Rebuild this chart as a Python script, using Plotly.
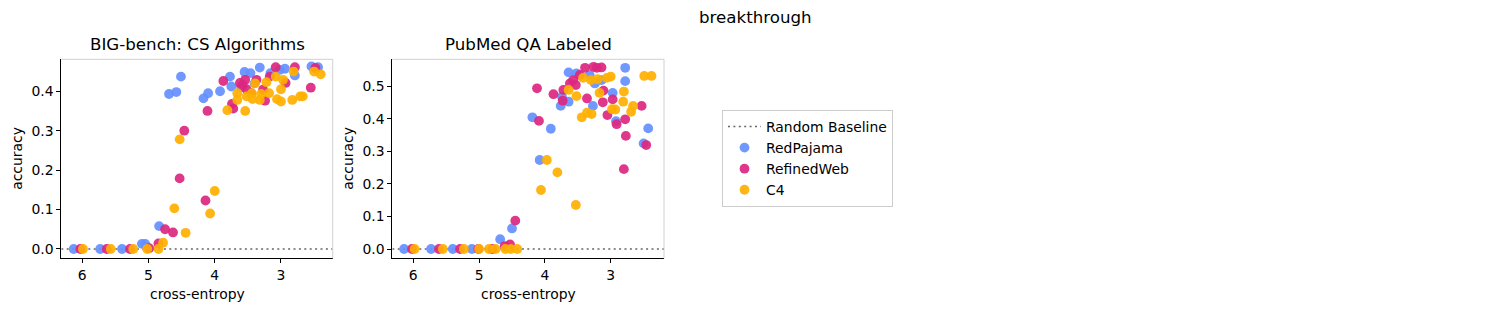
import plotly.graph_objects as go

# ---------------- data ----------------
panel_titles = ["BIG-bench: CS Algorithms", "PubMed QA Labeled"]
series_names = ["RedPajama", "RefinedWeb", "C4"]
series_colors = ["#648FFF", "#DC267F", "#FFB000"]
baseline_value = 0.0
x_ticks = [6, 5, 4, 3]
y_ticks_1 = [0.0, 0.1, 0.2, 0.3, 0.4]
y_ticks_2 = [0.0, 0.1, 0.2, 0.3, 0.4, 0.5]

# Panel 1: BIG-bench CS Algorithms
p1_redpajama_x = [6.13, 5.73, 5.40, 5.10, 5.05, 4.84, 4.69, 4.58, 4.51, 4.17, 4.10, 3.92, 3.77, 3.75,
                  3.55, 3.46, 3.32, 3.16, 3.02, 2.94, 2.79, 2.54, 2.44, 3.60, 3.40]
p1_redpajama_y = [0.0, 0.0, 0.0, 0.013, 0.013, 0.058, 0.393, 0.398, 0.437, 0.382, 0.395, 0.400, 0.437, 0.412,
                  0.449, 0.446, 0.460, 0.446, 0.454, 0.457, 0.440, 0.463, 0.461, 0.410, 0.420]
p1_refinedweb_x = [6.03, 5.63, 5.28, 4.99, 4.85, 4.75, 4.63, 4.53, 4.46, 4.14, 4.11, 3.87, 3.74, 3.72,
                   3.62, 3.54, 3.52, 3.37, 3.27, 3.24, 3.17, 3.08, 2.93, 2.79, 2.55, 2.48, 3.45, 3.58]
p1_refinedweb_y = [0.0, 0.0, 0.0, 0.002, 0.014, 0.050, 0.042, 0.179, 0.300, 0.123, 0.350, 0.426, 0.368, 0.356,
                   0.421, 0.429, 0.405, 0.429, 0.404, 0.376, 0.437, 0.461, 0.421, 0.461, 0.409, 0.459, 0.395, 0.415]
p1_c4_x = [5.99, 5.57, 5.23, 5.02, 4.85, 4.78, 4.61, 4.53, 4.44, 4.07, 4.00, 3.81, 3.66, 3.66, 3.54, 3.52,
           3.44, 3.43, 3.39, 3.32, 3.30, 3.22, 3.18, 3.08, 3.06, 3.00, 3.00, 2.97, 2.83, 2.81, 2.71, 2.67,
           2.50, 2.40]
p1_c4_y = [0.0, 0.0, 0.0, 0.0, 0.0, 0.016, 0.103, 0.278, 0.041, 0.090, 0.147, 0.352, 0.395, 0.378, 0.350, 0.387,
           0.395, 0.380, 0.420, 0.378, 0.393, 0.423, 0.395, 0.437, 0.380, 0.405, 0.374, 0.429, 0.378, 0.450, 0.387,
           0.387, 0.450, 0.443]

# Panel 2: PubMed QA Labeled
p2_redpajama_x = [6.14, 5.73, 5.40, 5.11, 4.68, 4.50, 4.19, 4.08, 3.91, 3.76, 3.74, 3.64, 3.64, 3.52,
                  3.32, 3.27, 3.24, 3.14, 2.97, 2.92, 2.78, 2.78, 2.50, 2.43]
p2_redpajama_y = [0.0, 0.0, 0.0, 0.0, 0.030, 0.063, 0.404, 0.273, 0.369, 0.439, 0.467, 0.452, 0.542, 0.539,
                  0.534, 0.439, 0.508, 0.518, 0.479, 0.392, 0.556, 0.515, 0.324, 0.370]
p2_refinedweb_x = [6.02, 5.61, 5.29, 5.01, 4.80, 4.61, 4.53, 4.45, 4.12, 4.09, 3.87, 3.73, 3.72, 3.62,
                   3.57, 3.53, 3.47, 3.39, 3.36, 3.26, 3.21, 3.14, 3.11, 3.12, 3.05, 2.97, 2.91, 2.78,
                   2.77, 2.80, 2.53, 2.46]
p2_refinedweb_y = [0.0, 0.0, 0.0, 0.0, 0.0, 0.009, 0.014, 0.087, 0.493, 0.393, 0.475, 0.455, 0.488, 0.508,
                   0.518, 0.503, 0.534, 0.556, 0.462, 0.559, 0.556, 0.557, 0.486, 0.450, 0.411, 0.459, 0.383, 0.398,
                   0.347, 0.245, 0.439, 0.319]
p2_c4_x = [5.98, 5.55, 5.23, 5.00, 4.85, 4.75, 4.60, 4.52, 4.42, 4.06, 3.97, 3.81, 3.53, 3.64, 3.52, 3.44,
           3.36, 3.29, 3.42, 3.30, 3.20, 3.17, 3.06, 3.00, 2.98, 2.93, 2.80, 2.81, 2.66, 2.69, 2.49, 2.38]
p2_c4_y = [0.0, 0.0, 0.0, 0.0, 0.0, 0.0, 0.0, 0.0, 0.0, 0.181, 0.273, 0.235, 0.135, 0.488, 0.469, 0.404,
           0.418, 0.414, 0.525, 0.518, 0.521, 0.479, 0.525, 0.529, 0.429, 0.428, 0.483, 0.452, 0.439, 0.421,
           0.531, 0.531]

panels = [
    [(p1_redpajama_x, p1_redpajama_y), (p1_refinedweb_x, p1_refinedweb_y), (p1_c4_x, p1_c4_y)],
    [(p2_redpajama_x, p2_redpajama_y), (p2_refinedweb_x, p2_refinedweb_y), (p2_c4_x, p2_c4_y)],
]

# ---------------- layout geometry ----------------
W, H = 1511, 311
x_ranges = [[6.317, 2.219], [6.319, 2.19]]
y_ranges = [[-0.0236, 0.481], [-0.0285, 0.582]]
x_domains = [[61.3 / W, 332.7 / W], [392.3 / W, 664.0 / W]]
y_domain = [1 - 258.3 / H, 1 - 59.3 / H]

FONT = "DejaVu Sans"
fig = go.Figure()

for i, panel in enumerate(panels):
    xa = "x" if i == 0 else "x2"
    ya = "y" if i == 0 else "y2"
    fig.add_trace(go.Scatter(
        x=x_ranges[i], y=[baseline_value, baseline_value], mode="lines",
        line=dict(color="#666666", width=1.6, dash="2px,3.4px"),
        name="Random Baseline", legendgroup="baseline", showlegend=(i == 0),
        xaxis=xa, yaxis=ya, hoverinfo="skip"))
    for (xs, ys), name, color in zip(panel, series_names, series_colors):
        fig.add_trace(go.Scatter(
            x=xs, y=ys, mode="markers",
            marker=dict(color=color, size=9.8, opacity=0.92, line=dict(width=0)),
            name=name, legendgroup=name, showlegend=(i == 0),
            xaxis=xa, yaxis=ya))

axis_common = dict(
    showgrid=False, zeroline=False, showline=True, linecolor="black", linewidth=1,
    ticks="outside", ticklen=4, tickwidth=1, tickcolor="black",
    tickfont=dict(family=FONT, size=13.9, color="black"), mirror=False,
)

layout_axes = {}
for i in range(2):
    sx = "" if i == 0 else "2"
    layout_axes["xaxis" + sx] = dict(axis_common, domain=x_domains[i], range=x_ranges[i],
                                     tickvals=x_ticks, ticktext=[str(t) for t in x_ticks],
                                     anchor="y" + sx)
    yt = y_ticks_1 if i == 0 else y_ticks_2
    layout_axes["yaxis" + sx] = dict(axis_common, domain=y_domain, range=y_ranges[i],
                                     tickvals=yt, ticktext=["%.1f" % t for t in yt],
                                     anchor="x" + sx)

shapes = []
for i in range(2):
    sx = "" if i == 0 else "2"
    for (x0, y0, x1, y1) in [(0, 1, 1, 1), (1, 0, 1, 1)]:
        shapes.append(dict(type="line", xref="x%s domain" % sx, yref="y%s domain" % sx,
                           x0=x0, y0=y0, x1=x1, y1=y1, line=dict(color="#d0d0d0", width=1)))

annotations = [dict(text="breakthrough", x=0.5, y=1 - 18 / H, xref="paper", yref="paper",
                    xanchor="center", yanchor="middle", showarrow=False,
                    font=dict(family=FONT, size=16.67, color="black"))]
for i in range(2):
    cx = (x_domains[i][0] + x_domains[i][1]) / 2
    annotations.append(dict(text=panel_titles[i], x=cx, y=1 - 44 / H, xref="paper", yref="paper",
                            xanchor="center", yanchor="middle", showarrow=False,
                            font=dict(family=FONT, size=16.67, color="black")))
    annotations.append(dict(text="cross-entropy", x=cx, y=1 - 294 / H, xref="paper", yref="paper",
                            xanchor="center", yanchor="middle", showarrow=False,
                            font=dict(family=FONT, size=13.9, color="black")))
    ylab_x = 17 / W if i == 0 else 348 / W
    annotations.append(dict(text="accuracy", x=ylab_x, y=1 - 158.8 / H, xref="paper", yref="paper",
                            xanchor="center", yanchor="middle", showarrow=False, textangle=-90,
                            font=dict(family=FONT, size=13.9, color="black")))

fig.update_layout(
    width=W, height=H, margin=dict(l=0, r=0, t=0, b=0),
    paper_bgcolor="white", plot_bgcolor="white",
    font=dict(family=FONT, size=13.9, color="black"),
    showlegend=True,
    legend=dict(x=722 / W, y=1 - 110 / H, xanchor="left", yanchor="top",
                bordercolor="#cccccc", borderwidth=1, bgcolor="white",
                font=dict(family=FONT, size=13.9, color="black"),
                tracegroupgap=0, itemwidth=33),
    shapes=shapes, annotations=annotations,
    **layout_axes,
)

fig.write_html("out.html", config={"displayModeBar": False},
               post_script="document.body.style.margin='0px';document.body.style.overflow='hidden';")
